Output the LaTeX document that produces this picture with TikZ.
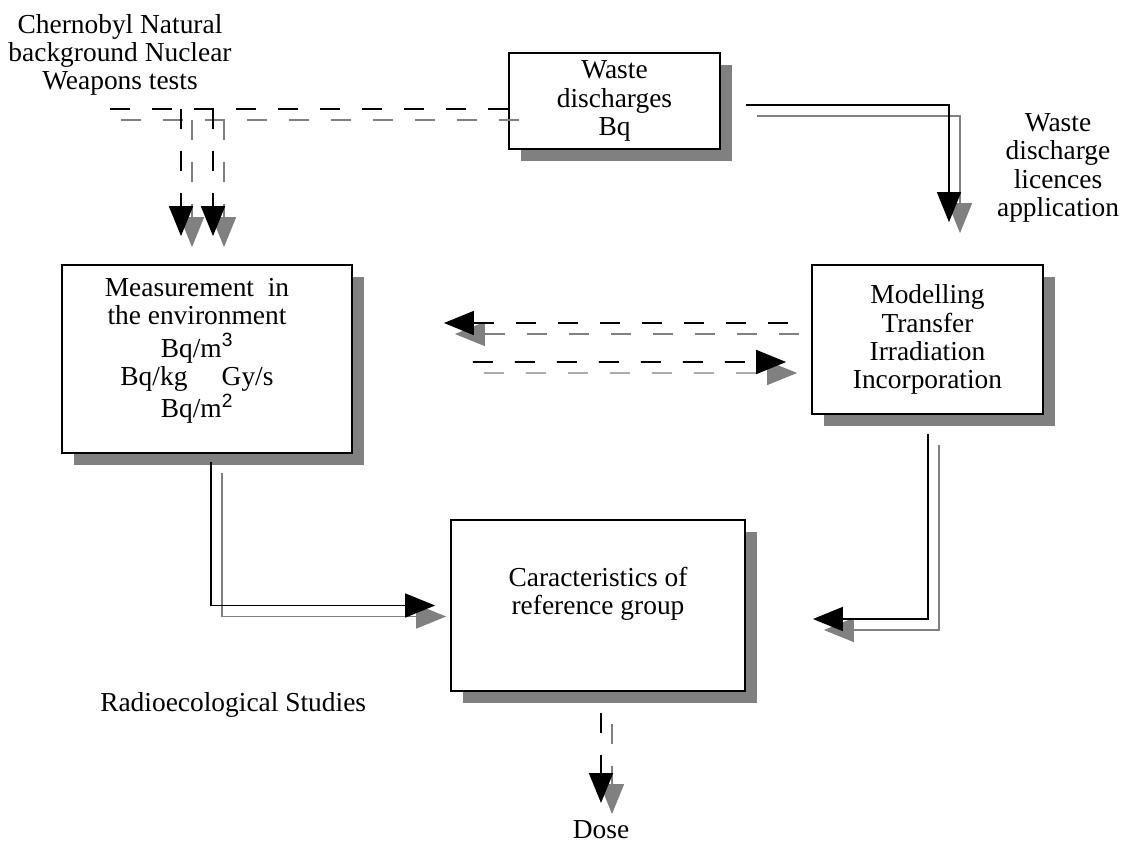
\documentclass[tikz,border=0pt]{standalone}
\usepackage{fontspec}
\setmainfont{Liberation Serif}
\setsansfont{Liberation Sans}
\usetikzlibrary{arrows.meta,calc,shadows}

% every connector is drawn twice: a grey copy shifted down-right, then the black one
\newcommand{\twin}[2]{%
  \draw[ghost,#1] #2;
  \draw[wire,#1] #2;}

\begin{document}
\begin{tikzpicture}[
  x=0.025cm, y=-0.025cm,
  font=\fontsize{19.5pt}{20pt}\selectfont,
  box/.style={draw=black, line width=1.2pt, fill=white, align=center, inner sep=0pt,
    drop shadow={shadow xshift=0.3cm, shadow yshift=-0.31cm, fill=gray, opacity=1}},
  note/.style={align=center, inner sep=0pt},
  wire/.style={draw=black, line width=1.2pt},
  ghost/.style={draw=gray, line width=1pt, transform canvas={shift={(11,11)}}},
  arrowed/.style={-{Triangle[length=0.75cm, width=0.6cm]}},
  broken/.style={dash pattern=on 0.5cm off 0.55cm}
]
  \useasboundingbox (0,0) rectangle (1122,847);

  \node[note] (sources) at (120,55) {Chernobyl Natural\\background Nuclear\\Weapons tests};
  \node[box, minimum width=5.275cm, minimum height=2.4cm] (waste) at (614.5,101) {Waste\\discharges\\Bq};
  \node[note] (licence) at (1058,168) {Waste\\discharge\\licences\\application};
  \node[box, minimum width=7.25cm, minimum height=4.7cm, text height=2cm, text depth=2cm] (meas) at (207,359)
    {\begin{tabular}{@{}c@{}}Measurement\ \ in\\the environment\\Bq/m\textsuperscript{\sffamily 3}\\
     Bq/kg\quad\ Gy/s\\Bq/m\textsuperscript{\sffamily 2}\end{tabular}\hspace{0.5cm}};
  \node[box, minimum width=5.775cm, minimum height=3.725cm] (model) at (927.5,339.5)
    {Modelling\\Transfer\\Irradiation\\Incorporation};
  \node[box, minimum width=7.35cm, minimum height=4.275cm] (ref) at (598,605.5)
    {Caracteristics of\\reference group\rule[-0.72cm]{0pt}{0pt}};
  \node[note, anchor=west] (studies) at (100,705) {Radioecological Studies};
  \node[note] (dose) at (601,830) {Dose};

  \coordinate (feed) at (107,109);
  \coordinate (tapA) at (181,109);
  \coordinate (tapB) at (213,109);

  % inputs to the measurements
  \twin{broken}{(waste.west |- feed) -- (feed)}
  \twin{broken, arrowed, shorten >=0.7cm}{(tapA) -- (tapA |- meas.north)}
  \twin{broken, arrowed, shorten >=0.7cm}{(tapB) -- (tapB |- meas.north)}

  % discharges to the model
  \twin{arrowed, shorten >=1.05cm}{($(waste.east)+(25,4)$) -| ($(model.north)+(21.5,0)$)}

  % model <-> measurements
  \twin{broken, arrowed, shorten >=2.275cm}{($(model.west)+(-23,-16.5)$) -- ($(meas.east)+(0,-36)$)}
  \twin{broken, arrowed, shorten >=0.625cm}{($(meas.east)+(120,3)$) -- ($(model.west)+(0,22.5)$)}

  % into the reference group, then dose
  \twin{arrowed, shorten >=0.375cm}{($(meas.south)+(4,8)$) |- (ref.west)}
  \twin{arrowed, shorten >=1.675cm}{($(model.south)+(0.5,19)$) |- ($(ref.east)+(0,13.5)$)}
  \twin{broken, arrowed, shorten >=0.44cm}{($(ref.south)+(3,21)$) -- (dose.north)}
\end{tikzpicture}
\end{document}
